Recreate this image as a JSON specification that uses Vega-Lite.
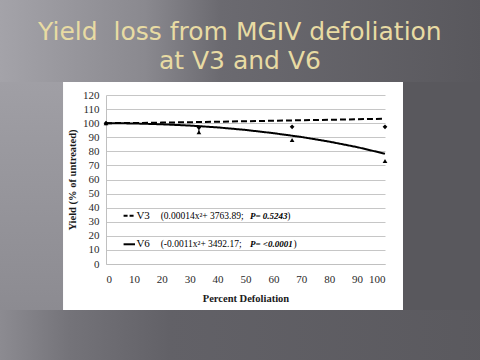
{
  "$schema": "https://vega.github.io/schema/vega-lite/v6.json",
  "width": 279,
  "height": 169,
  "autosize": {"type": "none"},
  "padding": {"left": 106, "top": 95, "right": 95, "bottom": 96},
  "background": "#ffffff",
  "config": {
    "view": {"stroke": null},
    "axis": {
      "labelColor": "#2a2a2a",
      "titleFont": "Liberation Serif",
      "titleFontSize": 10.5,
      "titleFontWeight": "bold",
      "titleColor": "#1a1a1a",
      "domainColor": "#c0c0c0",
      "gridColor": "#c6c6c6",
      "ticks": false
    },
    "axisX": {"grid": false, "labelPadding": 9, "titlePadding": 9},
    "axisY": {"grid": true, "labelPadding": 7, "titlePadding": 5}
  },
  "datasets": {
    "fit": [
      {"stage": "V3", "x": 0, "yield": 100},
      {"stage": "V3", "x": 10, "yield": 100.1},
      {"stage": "V3", "x": 20, "yield": 100.4},
      {"stage": "V3", "x": 30, "yield": 100.7},
      {"stage": "V3", "x": 40, "yield": 101.0},
      {"stage": "V3", "x": 50, "yield": 101.4},
      {"stage": "V3", "x": 60, "yield": 101.7},
      {"stage": "V3", "x": 70, "yield": 102.1},
      {"stage": "V3", "x": 80, "yield": 102.4},
      {"stage": "V3", "x": 90, "yield": 102.8},
      {"stage": "V3", "x": 100, "yield": 103.1},
      {"stage": "V6", "x": 0, "yield": 100},
      {"stage": "V6", "x": 10, "yield": 99.8},
      {"stage": "V6", "x": 20, "yield": 99.2},
      {"stage": "V6", "x": 30, "yield": 98.3},
      {"stage": "V6", "x": 40, "yield": 97.0},
      {"stage": "V6", "x": 50, "yield": 95.2},
      {"stage": "V6", "x": 60, "yield": 92.9},
      {"stage": "V6", "x": 70, "yield": 90.2},
      {"stage": "V6", "x": 80, "yield": 86.9},
      {"stage": "V6", "x": 90, "yield": 83.0},
      {"stage": "V6", "x": 100, "yield": 78.3}
    ],
    "obs": [
      {"stage": "V3", "x": 0, "yield": 100},
      {"stage": "V3", "x": 33.3, "yield": 97.0},
      {"stage": "V3", "x": 66.7, "yield": 97.4},
      {"stage": "V3", "x": 100, "yield": 97.4},
      {"stage": "V6", "x": 0, "yield": 100},
      {"stage": "V6", "x": 33.3, "yield": 93.5},
      {"stage": "V6", "x": 66.7, "yield": 88.0},
      {"stage": "V6", "x": 100, "yield": 73.2}
    ],
    "err": [
      {"x": 33.3, "lo": 93.5, "hi": 97.2}
    ],
    "one": [{}]
  },
  "layer": [
    {
      "data": {"name": "fit"},
      "mark": {"type": "line", "color": "#000000", "strokeWidth": 2},
      "encoding": {
        "x": {"field": "x", "type": "quantitative", "scale": {"domain": [0, 100]},
              "axis": {"values": [0, 10, 20, 30, 40, 50, 60, 70, 80, 90, 100], "title": "Percent Defoliation", "labelFont": "Liberation Serif", "labelFontSize": 11}},
        "y": {"field": "yield", "type": "quantitative", "scale": {"domain": [0, 120]},
              "axis": {"values": [0, 10, 20, 30, 40, 50, 60, 70, 80, 90, 100, 110, 120], "title": "Yield (% of untreated)", "labelFont": "Liberation Serif", "labelFontSize": 11}},
        "detail": {"field": "stage"},
        "strokeDash": {
          "field": "stage", "type": "nominal",
          "scale": {"domain": ["V3", "V6"], "range": [[6, 3], [1, 0]]},
          "legend": null
        }
      }
    },
    {
      "data": {"name": "one"},
      "mark": {
        "type": "rect",
        "fill": {
          "gradient": "linear", "x1": 0, "y1": 0, "x2": 1, "y2": 0,
          "stops": [
            {"offset": 0, "color": "#a5a4aa"},
            {"offset": 0.3, "color": "#8a898f"},
            {"offset": 0.45, "color": "#6b6a70"},
            {"offset": 1, "color": "#58575c"}
          ]
        }
      },
      "encoding": {
        "x": {"datum": -40, "type": "quantitative", "axis": {"values": [0, 10, 20, 30, 40, 50, 60, 70, 80, 90, 100], "title": "Percent Defoliation", "labelFont": "Liberation Serif", "labelFontSize": 11}},
        "x2": {"datum": 140},
        "y": {"datum": 129.23, "type": "quantitative", "axis": {"values": [0, 10, 20, 30, 40, 50, 60, 70, 80, 90, 100, 110, 120], "title": "Yield (% of untreated)", "labelFont": "Liberation Serif", "labelFontSize": 11}},
        "y2": {"datum": 190}
      }
    },
    {
      "data": {"name": "one"},
      "mark": {
        "type": "rect",
        "fill": {
          "gradient": "linear", "x1": 0, "y1": 0, "x2": 1, "y2": 0,
          "stops": [
            {"offset": 0, "color": "#8e8d93"},
            {"offset": 0.15, "color": "#747379"},
            {"offset": 0.35, "color": "#626167"},
            {"offset": 1, "color": "#5a595e"}
          ]
        }
      },
      "encoding": {
        "x": {"datum": -40, "type": "quantitative", "axis": {"values": [0, 10, 20, 30, 40, 50, 60, 70, 80, 90, 100], "title": "Percent Defoliation", "labelFont": "Liberation Serif", "labelFontSize": 11}},
        "x2": {"datum": 140},
        "y": {"datum": -70, "type": "quantitative", "axis": {"values": [0, 10, 20, 30, 40, 50, 60, 70, 80, 90, 100, 110, 120], "title": "Yield (% of untreated)", "labelFont": "Liberation Serif", "labelFontSize": 11}},
        "y2": {"datum": -32.66}
      }
    },
    {
      "data": {"name": "one"},
      "mark": {
        "type": "rect",
        "fill": {
          "gradient": "linear", "x1": 0, "y1": 0, "x2": 0, "y2": 1,
          "stops": [
            {"offset": 0, "color": "#a09fa5"},
            {"offset": 1, "color": "#8c8b91"}
          ]
        }
      },
      "encoding": {
        "x": {"datum": -40, "type": "quantitative", "axis": {"values": [0, 10, 20, 30, 40, 50, 60, 70, 80, 90, 100], "title": "Percent Defoliation", "labelFont": "Liberation Serif", "labelFontSize": 11}},
        "x2": {"datum": -15.4},
        "y": {"datum": -32.66, "type": "quantitative", "axis": {"values": [0, 10, 20, 30, 40, 50, 60, 70, 80, 90, 100, 110, 120], "title": "Yield (% of untreated)", "labelFont": "Liberation Serif", "labelFontSize": 11}},
        "y2": {"datum": 129.23}
      }
    },
    {
      "data": {"name": "one"},
      "mark": {"type": "rect", "fill": "#59585d"},
      "encoding": {
        "x": {"datum": 106.45, "type": "quantitative", "axis": {"values": [0, 10, 20, 30, 40, 50, 60, 70, 80, 90, 100], "title": "Percent Defoliation", "labelFont": "Liberation Serif", "labelFontSize": 11}},
        "x2": {"datum": 140},
        "y": {"datum": -32.66, "type": "quantitative", "axis": {"values": [0, 10, 20, 30, 40, 50, 60, 70, 80, 90, 100, 110, 120], "title": "Yield (% of untreated)", "labelFont": "Liberation Serif", "labelFontSize": 11}},
        "y2": {"datum": 129.23}
      }
    },
    {
      "data": {"name": "err"},
      "mark": {"type": "rule", "color": "#000000", "strokeWidth": 1},
      "encoding": {
        "x": {"field": "x", "type": "quantitative", "axis": {"values": [0, 10, 20, 30, 40, 50, 60, 70, 80, 90, 100], "title": "Percent Defoliation", "labelFont": "Liberation Serif", "labelFontSize": 11}},
        "y": {"field": "lo", "type": "quantitative", "axis": {"values": [0, 10, 20, 30, 40, 50, 60, 70, 80, 90, 100, 110, 120], "title": "Yield (% of untreated)", "labelFont": "Liberation Serif", "labelFontSize": 11}},
        "y2": {"field": "hi"}
      }
    },
    {
      "data": {"name": "obs"},
      "mark": {"type": "point", "filled": true, "color": "#000000", "opacity": 1, "size": 22},
      "encoding": {
        "x": {"field": "x", "type": "quantitative", "axis": {"values": [0, 10, 20, 30, 40, 50, 60, 70, 80, 90, 100], "title": "Percent Defoliation", "labelFont": "Liberation Serif", "labelFontSize": 11}},
        "y": {"field": "yield", "type": "quantitative", "axis": {"values": [0, 10, 20, 30, 40, 50, 60, 70, 80, 90, 100, 110, 120], "title": "Yield (% of untreated)", "labelFont": "Liberation Serif", "labelFontSize": 11}},
        "shape": {
          "field": "stage", "type": "nominal",
          "scale": {"domain": ["V3", "V6"], "range": ["diamond", "triangle-up"]},
          "legend": null
        }
      }
    },
    {
      "data": {"name": "one"},
      "mark": {"type": "rule", "color": "#000000", "strokeWidth": 2, "strokeDash": [4, 2]},
      "encoding": {
        "x": {"datum": 6.3, "type": "quantitative", "axis": {"values": [0, 10, 20, 30, 40, 50, 60, 70, 80, 90, 100], "title": "Percent Defoliation", "labelFont": "Liberation Serif", "labelFontSize": 11}},
        "x2": {"datum": 10.4},
        "y": {"datum": 34.3, "type": "quantitative", "axis": {"values": [0, 10, 20, 30, 40, 50, 60, 70, 80, 90, 100, 110, 120], "title": "Yield (% of untreated)", "labelFont": "Liberation Serif", "labelFontSize": 11}}
      }
    },
    {
      "data": {"name": "one"},
      "mark": {"type": "rule", "color": "#000000", "strokeWidth": 2},
      "encoding": {
        "x": {"datum": 6.3, "type": "quantitative", "axis": {"values": [0, 10, 20, 30, 40, 50, 60, 70, 80, 90, 100], "title": "Percent Defoliation", "labelFont": "Liberation Serif", "labelFontSize": 11}},
        "x2": {"datum": 10.4},
        "y": {"datum": 14.0, "type": "quantitative", "axis": {"values": [0, 10, 20, 30, 40, 50, 60, 70, 80, 90, 100, 110, 120], "title": "Yield (% of untreated)", "labelFont": "Liberation Serif", "labelFontSize": 11}}
      }
    },
    {
      "data": {"name": "one"},
      "mark": {"type": "text", "text": "V3", "font": "Liberation Serif", "fontSize": 11, "align": "left", "baseline": "middle", "color": "#000000"},
      "encoding": {
        "x": {"datum": 10.9, "type": "quantitative", "axis": {"values": [0, 10, 20, 30, 40, 50, 60, 70, 80, 90, 100], "title": "Percent Defoliation", "labelFont": "Liberation Serif", "labelFontSize": 11}},
        "y": {"datum": 34.3, "type": "quantitative", "axis": {"values": [0, 10, 20, 30, 40, 50, 60, 70, 80, 90, 100, 110, 120], "title": "Yield (% of untreated)", "labelFont": "Liberation Serif", "labelFontSize": 11}}
      }
    },
    {
      "data": {"name": "one"},
      "mark": {"type": "text", "text": "V6", "font": "Liberation Serif", "fontSize": 11, "align": "left", "baseline": "middle", "color": "#000000"},
      "encoding": {
        "x": {"datum": 10.9, "type": "quantitative", "axis": {"values": [0, 10, 20, 30, 40, 50, 60, 70, 80, 90, 100], "title": "Percent Defoliation", "labelFont": "Liberation Serif", "labelFontSize": 11}},
        "y": {"datum": 14.0, "type": "quantitative", "axis": {"values": [0, 10, 20, 30, 40, 50, 60, 70, 80, 90, 100, 110, 120], "title": "Yield (% of untreated)", "labelFont": "Liberation Serif", "labelFontSize": 11}}
      }
    },
    {
      "data": {"name": "one"},
      "mark": {"type": "text", "text": "(0.00014x²+ 3763.89;", "font": "Liberation Serif", "fontSize": 9.5, "align": "left", "baseline": "middle", "color": "#000000"},
      "encoding": {
        "x": {"datum": 19.6, "type": "quantitative", "axis": {"values": [0, 10, 20, 30, 40, 50, 60, 70, 80, 90, 100], "title": "Percent Defoliation", "labelFont": "Liberation Serif", "labelFontSize": 11}},
        "y": {"datum": 34.3, "type": "quantitative", "axis": {"values": [0, 10, 20, 30, 40, 50, 60, 70, 80, 90, 100, 110, 120], "title": "Yield (% of untreated)", "labelFont": "Liberation Serif", "labelFontSize": 11}}
      }
    },
    {
      "data": {"name": "one"},
      "mark": {"type": "text", "text": "P= 0.5243", "font": "Liberation Serif", "fontSize": 9, "fontWeight": "bold", "fontStyle": "italic", "align": "left", "baseline": "middle", "color": "#000000"},
      "encoding": {
        "x": {"datum": 51.6, "type": "quantitative", "axis": {"values": [0, 10, 20, 30, 40, 50, 60, 70, 80, 90, 100], "title": "Percent Defoliation", "labelFont": "Liberation Serif", "labelFontSize": 11}},
        "y": {"datum": 34.3, "type": "quantitative", "axis": {"values": [0, 10, 20, 30, 40, 50, 60, 70, 80, 90, 100, 110, 120], "title": "Yield (% of untreated)", "labelFont": "Liberation Serif", "labelFontSize": 11}}
      }
    },
    {
      "data": {"name": "one"},
      "mark": {"type": "text", "text": ")", "font": "Liberation Serif", "fontSize": 9.5, "align": "left", "baseline": "middle", "color": "#000000"},
      "encoding": {
        "x": {"datum": 65.0, "type": "quantitative", "axis": {"values": [0, 10, 20, 30, 40, 50, 60, 70, 80, 90, 100], "title": "Percent Defoliation", "labelFont": "Liberation Serif", "labelFontSize": 11}},
        "y": {"datum": 34.3, "type": "quantitative", "axis": {"values": [0, 10, 20, 30, 40, 50, 60, 70, 80, 90, 100, 110, 120], "title": "Yield (% of untreated)", "labelFont": "Liberation Serif", "labelFontSize": 11}}
      }
    },
    {
      "data": {"name": "one"},
      "mark": {"type": "text", "text": "(-0.0011x²+ 3492.17;", "font": "Liberation Serif", "fontSize": 9.5, "align": "left", "baseline": "middle", "color": "#000000"},
      "encoding": {
        "x": {"datum": 19.6, "type": "quantitative", "axis": {"values": [0, 10, 20, 30, 40, 50, 60, 70, 80, 90, 100], "title": "Percent Defoliation", "labelFont": "Liberation Serif", "labelFontSize": 11}},
        "y": {"datum": 14.0, "type": "quantitative", "axis": {"values": [0, 10, 20, 30, 40, 50, 60, 70, 80, 90, 100, 110, 120], "title": "Yield (% of untreated)", "labelFont": "Liberation Serif", "labelFontSize": 11}}
      }
    },
    {
      "data": {"name": "one"},
      "mark": {"type": "text", "text": "P= <0.0001", "font": "Liberation Serif", "fontSize": 9, "fontWeight": "bold", "fontStyle": "italic", "align": "left", "baseline": "middle", "color": "#000000"},
      "encoding": {
        "x": {"datum": 51.6, "type": "quantitative", "axis": {"values": [0, 10, 20, 30, 40, 50, 60, 70, 80, 90, 100], "title": "Percent Defoliation", "labelFont": "Liberation Serif", "labelFontSize": 11}},
        "y": {"datum": 14.0, "type": "quantitative", "axis": {"values": [0, 10, 20, 30, 40, 50, 60, 70, 80, 90, 100, 110, 120], "title": "Yield (% of untreated)", "labelFont": "Liberation Serif", "labelFontSize": 11}}
      }
    },
    {
      "data": {"name": "one"},
      "mark": {"type": "text", "text": ")", "font": "Liberation Serif", "fontSize": 9.5, "align": "left", "baseline": "middle", "color": "#000000"},
      "encoding": {
        "x": {"datum": 67.2, "type": "quantitative", "axis": {"values": [0, 10, 20, 30, 40, 50, 60, 70, 80, 90, 100], "title": "Percent Defoliation", "labelFont": "Liberation Serif", "labelFontSize": 11}},
        "y": {"datum": 14.0, "type": "quantitative", "axis": {"values": [0, 10, 20, 30, 40, 50, 60, 70, 80, 90, 100, 110, 120], "title": "Yield (% of untreated)", "labelFont": "Liberation Serif", "labelFontSize": 11}}
      }
    },
    {
      "data": {"name": "one"},
      "mark": {"type": "text", "text": "Yield\u00a0 loss from MGIV defoliation", "font": "DejaVu Sans", "fontSize": 25, "align": "center", "baseline": "alphabetic", "color": "#e8dba3"},
      "encoding": {
        "x": {"datum": 48, "type": "quantitative", "axis": {"values": [0, 10, 20, 30, 40, 50, 60, 70, 80, 90, 100], "title": "Percent Defoliation", "labelFont": "Liberation Serif", "labelFontSize": 11}},
        "y": {"datum": 159.3, "type": "quantitative", "axis": {"values": [0, 10, 20, 30, 40, 50, 60, 70, 80, 90, 100, 110, 120], "title": "Yield (% of untreated)", "labelFont": "Liberation Serif", "labelFontSize": 11}}
      }
    },
    {
      "data": {"name": "one"},
      "mark": {"type": "text", "text": "at V3 and V6", "font": "DejaVu Sans", "fontSize": 25, "align": "center", "baseline": "alphabetic", "color": "#e8dba3"},
      "encoding": {
        "x": {"datum": 48, "type": "quantitative", "axis": {"values": [0, 10, 20, 30, 40, 50, 60, 70, 80, 90, 100], "title": "Percent Defoliation", "labelFont": "Liberation Serif", "labelFontSize": 11}},
        "y": {"datum": 138.8, "type": "quantitative", "axis": {"values": [0, 10, 20, 30, 40, 50, 60, 70, 80, 90, 100, 110, 120], "title": "Yield (% of untreated)", "labelFont": "Liberation Serif", "labelFontSize": 11}}
      }
    }
  ]
}
